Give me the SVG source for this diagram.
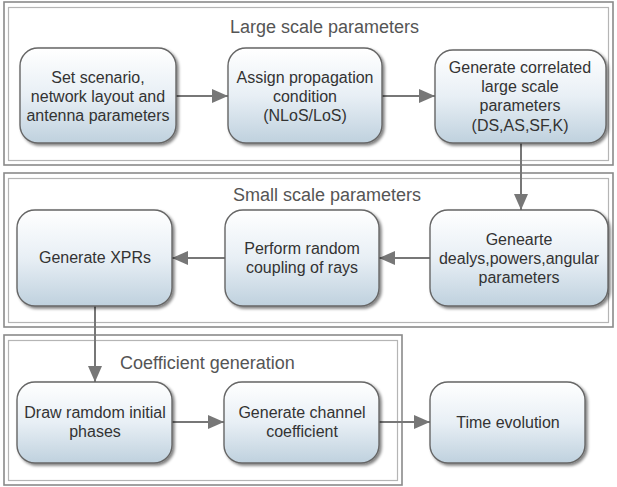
<svg xmlns="http://www.w3.org/2000/svg" width="617" height="487" viewBox="0 0 617 487">
<defs>
<linearGradient id="nodeGrad" x1="0" y1="0" x2="0" y2="1">
<stop offset="0" stop-color="#ffffff"/>
<stop offset="0.5" stop-color="#e8eff5"/>
<stop offset="1" stop-color="#bfd1de"/>
</linearGradient>
<filter id="shadow" x="-10%" y="-10%" width="125%" height="130%">
<feGaussianBlur in="SourceAlpha" stdDeviation="1.5"/>
<feOffset dx="2" dy="2" result="b"/>
<feComponentTransfer><feFuncA type="linear" slope="0.5"/></feComponentTransfer>
<feMerge><feMergeNode/><feMergeNode in="SourceGraphic"/></feMerge>
</filter>
<marker id="arrow" viewBox="0 0 16 14" refX="16" refY="7" markerWidth="16" markerHeight="14" markerUnits="userSpaceOnUse" orient="auto">
<path d="M0,0 L16,7 L0,14 Z" fill="#777"/>
</marker>
</defs>
<style>
.sec-outer{fill:#fff;stroke:#8a8a8a;stroke-width:1.6}
.sec-inner{fill:none;stroke:#b5b5b5;stroke-width:1.2}
.sec-title{font-family:"Liberation Sans",Arial,sans-serif;font-size:18px;fill:#555;font-weight:normal}
.node rect{fill:url(#nodeGrad);stroke:#666;stroke-width:1.4;filter:url(#shadow)}
.node text{font-family:"Liberation Sans",Arial,sans-serif;font-size:16px;fill:#333;text-anchor:middle}
.conn{stroke:#777;stroke-width:2;fill:none;marker-end:url(#arrow)}
</style>
<rect width="617" height="487" fill="#fff"/>
<g id="sec-large">
<rect class="sec-outer" x="4" y="2" width="609" height="163"/>
<rect class="sec-inner" x="8.5" y="7.5" width="600" height="153"/>
<text class="sec-title" x="230" y="33">Large scale parameters</text>
</g>
<g id="sec-small">
<rect class="sec-outer" x="4" y="173" width="609" height="154"/>
<rect class="sec-inner" x="8.5" y="178.5" width="600" height="144"/>
<text class="sec-title" x="233" y="201">Small scale parameters</text>
</g>
<g id="sec-coef">
<rect class="sec-outer" x="4" y="335" width="398" height="150"/>
<rect class="sec-inner" x="8.5" y="340.5" width="389" height="140"/>
<text class="sec-title" x="120" y="369">Coefficient generation</text>
</g>
<g id="connectors">
<line class="conn" x1="176" y1="96" x2="228" y2="96"/>
<line class="conn" x1="382" y1="96" x2="435" y2="96"/>
<line class="conn" x1="521" y1="143" x2="521" y2="210"/>
<line class="conn" x1="430" y1="258" x2="379" y2="258"/>
<line class="conn" x1="225" y1="258" x2="172" y2="258"/>
<line class="conn" x1="95" y1="306" x2="95" y2="382"/>
<line class="conn" x1="172" y1="422" x2="224" y2="422"/>
<line class="conn" x1="379" y1="422" x2="430" y2="422"/>
</g>
<g id="n-set" class="node">
<rect x="20" y="48" width="156" height="95" rx="18"/>
<text x="98" y="83">Set scenario,</text>
<text x="98" y="102">network layout and</text>
<text x="98" y="121">antenna parameters</text>
</g>
<g id="n-assign" class="node">
<rect x="228" y="48" width="154" height="95" rx="18"/>
<text x="305" y="83">Assign propagation</text>
<text x="305" y="102">condition</text>
<text x="305" y="121">(NLoS/LoS)</text>
</g>
<g id="n-corr" class="node">
<rect x="435" y="50" width="171" height="93" rx="18"/>
<text x="520" y="73">Generate correlated</text>
<text x="520" y="92">large scale</text>
<text x="520" y="111">parameters</text>
<text x="520" y="131">(DS,AS,SF,K)</text>
</g>
<g id="n-delays" class="node">
<rect x="430" y="210" width="178" height="96" rx="18"/>
<text x="519" y="245">Genearte</text>
<text x="519" y="264">dealys,powers,angular</text>
<text x="519" y="283">parameters</text>
</g>
<g id="n-coupling" class="node">
<rect x="225" y="210" width="154" height="96" rx="18"/>
<text x="302" y="254">Perform random</text>
<text x="302" y="273">coupling of rays</text>
</g>
<g id="n-xpr" class="node">
<rect x="17" y="210" width="155" height="96" rx="18"/>
<text x="95" y="263">Generate XPRs</text>
</g>
<g id="n-phases" class="node">
<rect x="17" y="382" width="155" height="81" rx="18"/>
<text x="95" y="418">Draw ramdom initial</text>
<text x="95" y="437">phases</text>
</g>
<g id="n-channel" class="node">
<rect x="224" y="382" width="155" height="81" rx="18"/>
<text x="302" y="418">Generate channel</text>
<text x="302" y="437">coefficient</text>
</g>
<g id="n-time" class="node">
<rect x="430" y="382" width="155" height="81" rx="18"/>
<text x="508" y="428">Time evolution</text>
</g>
</svg>
